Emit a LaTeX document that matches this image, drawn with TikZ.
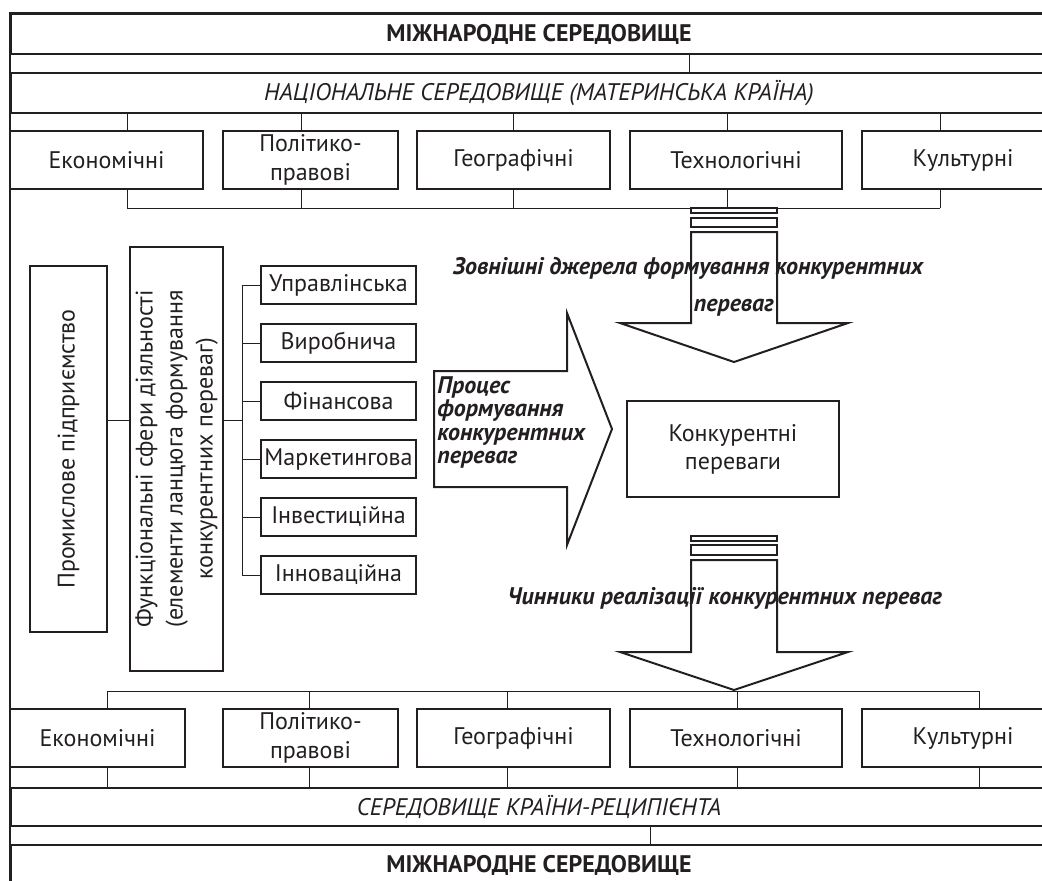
\documentclass[tikz,border=0pt]{standalone}
\usepackage{fontspec}
\setmainfont{PT Sans}
\definecolor{ink}{HTML}{231F20}

\tikzset{
	box/.style={draw=ink, line width=1pt, inner sep=0pt, align=center, text=ink, font=\fontsize{12}{14.5}\selectfont},
	band/.style={draw=ink, line width=1pt, inner sep=0pt, anchor=north west, minimum width=528pt, text=ink},
	link/.style={draw=ink, line width=0.5pt},
	fatarrow/.style={draw=ink, line width=1pt},
	lbl/.style={inner sep=0pt, text=ink, font=\fontsize{12}{11.7}\selectfont\bfseries\itshape}
}

\begin{document}
\begin{tikzpicture}[x=0.5pt, y=-0.5pt]
	\useasboundingbox (0,0) rectangle (1042,880);
	\clip (0,0) rectangle (1042,880);

	% outer frame
	\draw[ink, line width=1.4pt] (10,900) -- (10,13) -- (1080,13);

	% bands
	\node[band, minimum height=20pt, font=\fontsize{12}{14}\selectfont\bfseries] (intlTop) at (10,13) {МІЖНАРОДНЕ СЕРЕДОВИЩЕ};
	\node[band, minimum height=20pt, font=\fontsize{12}{14}\selectfont\itshape] (home) at (10,72) {НАЦІОНАЛЬНЕ СЕРЕДОВИЩЕ (МАТЕРИНСЬКА КРАЇНА)};
	\node[band, minimum height=19pt, font=\fontsize{12}{14}\selectfont\itshape] (host) at (10,787) {СЕРЕДОВИЩЕ КРАЇНИ-РЕЦИПІЄНТА};
	\node[band, minimum height=20pt, font=\fontsize{12}{14}\selectfont\bfseries] (intlBot) at (10,844) {МІЖНАРОДНЕ СЕРЕДОВИЩЕ};

	\draw[link] (intlTop.south -| 689,0) -- (home.north -| 689,0);
	\draw[link] (host.south -| 650,0) -- (intlBot.north -| 650,0);

	% factors of the home country
	\foreach \nm/\cx/\w/\txt in {te/106.5/96.5/Економічні, tp/310.5/87.5/{Політико-\\правові}, tg/513.5/96.5/Географічні, tt/736/106/Технологічні, tk/963/101/Культурні}
	{
		\node[box, minimum width=\w pt, minimum height=29pt] (\nm) at (\cx,160) {\txt};
	}
	\foreach \nm/\cx in {te/127, tp/301, tg/513, tt/727, tk/940}
	{
		\draw[link] (home.south -| \cx,0) -- (\nm.north -| \cx,0);
		\draw[link] (\nm.south -| \cx,0) -- (\cx,208);
	}
	\coordinate (busTopL) at (127,208);
	\coordinate (busTopR) at (940,208);
	\draw[link] (busTopL) -- (busTopR);

	% factors of the host country
	\foreach \nm/\cx/\w/\txt in {be/97.5/87.5/Економічні, bp/310.5/87.5/{Політико-\\правові}, bg/513.5/96.5/Географічні, bt/736/106/Технологічні, bk/963/101/Культурні}
	{
		\node[box, minimum width=\w pt, minimum height=29pt] (\nm) at (\cx,738) {\txt};
	}
	\foreach \nm/\cx in {be/107, bp/309, bg/507, bt/737, bk/979}
	{
		\draw[link] (\cx,691) -- (\nm.north -| \cx,0);
		\draw[link] (\nm.south -| \cx,0) -- (host.north -| \cx,0);
	}
	\coordinate (busBotL) at (107,691);
	\coordinate (busBotR) at (979,691);
	\draw[link] (busBotL) -- (busBotR);

	% enterprise
	\node[box, minimum width=38.5pt, minimum height=183pt] (prom) at (68.5,449) {\rotatebox{90}{Промислове підприємство}};
	\node[box, minimum width=46.5pt, minimum height=212pt] (func) at (176.5,459)
		{\rotatebox{90}{\fontsize{12}{15}\selectfont\begin{tabular}{@{}c@{}}Функціональні сфери діяльності\\(елементи ланцюга формування\\конкурентних переваг)\end{tabular}}};

	\foreach \s/\txt [count=\i from 0] in {s1/Управлінська, s2/Виробнича, s3/Фінансова, s4/Маркетингова, s5/Інвестиційна, s6/Інноваційна}
	{
		\node[box, minimum width=77.5pt, minimum height=19pt] (\s) at (338.5,285+58*\i) {\txt};
		\draw[link] (\s.west) -- (\s.west -| 242,0);
	}
	\draw[link] (prom.east |- 0,420) -- (func.west |- 0,420);
	\draw[link] (func.east |- 0,420) -- (242,420);
	\draw[link] (s1.west -| 242,0) -- (s6.west -| 242,0);

	% competitive advantages
	\node[box, minimum width=106pt, minimum height=48pt, font=\fontsize{12}{14}\selectfont] (adv) at (733,449) {Конкурентні\\переваги};

	% big arrows
	\draw[fatarrow] (691,208) rectangle (777,213);
	\draw[fatarrow] (691,218) rectangle (777,227);
	\draw[fatarrow] (691,232) -- (691,323) -- (620,323) -- (734,362) -- (848,323) -- (777,323) -- (777,232) -- cycle;

	\draw[fatarrow] (691,536) rectangle (777,541);
	\draw[fatarrow] (691,545) rectangle (777,555);
	\draw[fatarrow] (691,560) -- (691,652) -- (620,652) -- (734,690) -- (848,652) -- (777,652) -- (777,560) -- cycle;

	\draw[fatarrow] (434,371) -- (567,371) -- (567,313) -- (612,429) -- (567,545) -- (567,487) -- (434,487) -- cycle;

	% labels
	\node[lbl] (extLbl) at (688,268) {Зовнішні джерела формування конкурентних};
	\node[lbl] (extLbl2) at (734,308) {переваг};
	\node[lbl, anchor=north west, align=left] (procLbl) at (437,376) {Процес\\формування\\конкурентних\\переваг};
	\node[lbl] (implLbl) at (725,598) {Чинники реалізації конкурентних переваг};

\end{tikzpicture}
\end{document}
